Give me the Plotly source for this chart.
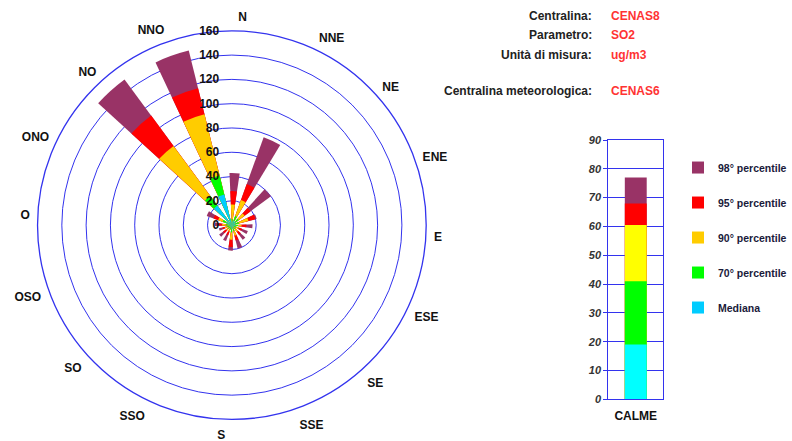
import plotly.graph_objects as go

directions = ["N", "NNE", "NE", "ENE", "E", "ESE", "SE", "SSE",
              "S", "SSO", "SO", "OSO", "O", "ONO", "NO", "NNO"]
mediana = [3, 4, 4, 3, 3, 2, 2, 3, 3, 2, 2, 2, 3, 5, 20, 26]
p70 = [5, 8, 7, 6, 5, 4, 4, 5, 6, 4, 4, 4, 5, 8, 30, 42]
p90 = [17, 22, 13, 14, 8, 6, 7, 9, 12, 6, 6, 6, 8, 12, 81, 94]
p95 = [28, 36, 19, 20, 12, 9, 10, 13, 18, 9, 9, 8, 11, 16, 112, 116]
p98 = [43, 77, 40, 21, 17, 14, 15, 20, 21, 14, 13, 11, 14, 22, 149, 148]

calme_cat = ["CALME"]
calme_mediana = [19]
calme_p70 = [41]
calme_p90 = [60.5]
calme_p95 = [68]
calme_p98 = [77]

series_names = ["98° percentile", "95° percentile", "90° percentile", "70° percentile", "Mediana"]
polar_colors = ["#993366", "#FF0000", "#FFCC00", "#00FF00", "#00CCFF"]
bar_colors = ["#993366", "#FF0000", "#FFFF00", "#00FF00", "#00FFFF"]
polar_values = [p98, p95, p90, p70, mediana]
bar_values = [calme_p98, calme_p95, calme_p90, calme_p70, calme_mediana]

BLUE = "#3333EE"
fig = go.Figure()

for i, (name, col, vals) in enumerate(zip(series_names, polar_colors, polar_values)):
    fig.add_trace(go.Barpolar(
        r=vals, theta=directions, width=0.5, name=name,
        marker=dict(color=col, line=dict(width=0)),
        legendgroup=name, showlegend=True,
    ))

for name, col, vals in zip(series_names, bar_colors, bar_values):
    fig.add_trace(go.Bar(
        x=calme_cat, y=vals, width=0.4, name=name,
        marker=dict(color=col, line=dict(width=0)),
        xaxis="x", yaxis="y", showlegend=False, legendgroup=name,
    ))

label_font = dict(family="Liberation Sans, Arial", size=12, color="#111111", weight="bold")

fig.update_layout(
    width=792, height=441,
    margin=dict(l=0, r=0, t=0, b=0),
    paper_bgcolor="white", plot_bgcolor="white",
    showlegend=True,
    barmode="overlay",
    polar=dict(
        domain=dict(x=[0.048, 0.545], y=[0.043, 0.936]),
        bgcolor="white",
        barmode="overlay",
        angularaxis=dict(
            rotation=87, direction="clockwise",
            categoryorder="array", categoryarray=directions,
            showgrid=False, showline=True, linecolor=BLUE, linewidth=1.3,
            ticks="outside", ticklen=5, tickcolor="rgba(0,0,0,0)",
            tickfont=label_font,
        ),
        radialaxis=dict(
            range=[0, 160], dtick=20, tick0=0, angle=90, tickangle=90,
            side="counterclockwise",
            showline=False, ticks="outside", ticklen=8, tickcolor="rgba(0,0,0,0)",
            gridcolor=BLUE, gridwidth=1.3,
            tickfont=label_font,
        ),
    ),
    xaxis=dict(
        domain=[0.778, 0.848], anchor="y", automargin=False,
        showline=True, linecolor=BLUE, mirror=True, linewidth=1.3,
        showgrid=False, ticks="", tickfont=label_font, ticklabelstandoff=5,
    ),
    yaxis=dict(
        domain=[0.0946, 0.6825], anchor="x", range=[0, 90], dtick=10, automargin=False,
        showline=True, linecolor=BLUE, mirror=True, linewidth=1.3,
        gridcolor=BLUE, gridwidth=1.2, zeroline=False,
        ticks="outside", ticklen=4, tickcolor=BLUE,
        tickfont=dict(family="Liberation Sans, Arial", size=11, color="#333333",
                      weight="bold", style="italic"),
    ),
    legend=dict(
        x=0.8675, y=0.653, xanchor="left", yanchor="top",
        font=dict(family="Liberation Sans, Arial", size=10.5, color="#1a1a3a", weight="bold"),
        tracegroupgap=16, itemwidth=30, bgcolor="rgba(0,0,0,0)",
    ),
)

info_font_lbl = dict(family="Liberation Sans, Arial", size=12, color="#222222", weight="bold")
info_font_val = dict(family="Liberation Sans, Arial", size=12, color="#FF3333", weight="bold")
info_labels = ["Centralina:", "Parametro:", "Unità di misura:", "Centralina meteorologica:"]
info_values = ["CENAS8", "SO2", "ug/m3", "CENAS6"]
info_y = [16, 35, 55, 91]
for lbl, val, yy in zip(info_labels, info_values, info_y):
    fig.add_annotation(text=lbl, x=602 / 792, y=1 - yy / 441, xref="paper", yref="paper",
                       xanchor="right", yanchor="middle", showarrow=False, font=info_font_lbl)
    fig.add_annotation(text=val, x=617 / 792, y=1 - yy / 441, xref="paper", yref="paper",
                       xanchor="left", yanchor="middle", showarrow=False, font=info_font_val)

fig.write_html("out.html", config={"displayModeBar": False},
               post_script="document.body.style.margin='0';")
